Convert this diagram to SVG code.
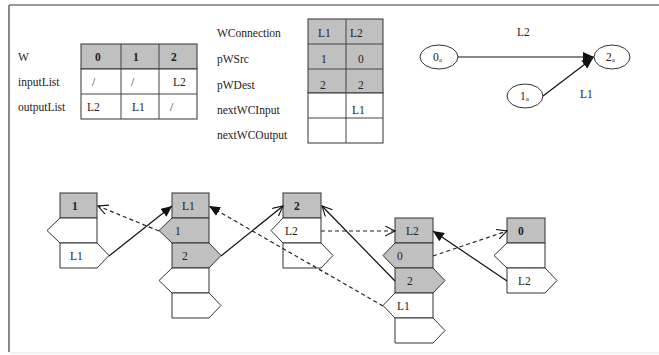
<svg xmlns="http://www.w3.org/2000/svg" width="659" height="355" viewBox="0 0 659 355">
<style>
text{font-family:"Liberation Serif","Times New Roman",serif;font-size:11.5px;fill:#222}
.b{font-weight:bold}
.g{fill:#c0c0c0;stroke:#333;stroke-width:1}
.w{fill:#fff;stroke:#333;stroke-width:1}
.tl{stroke:#444;stroke-width:1;fill:none}
.sl{stroke:#111;stroke-width:1.2;fill:none}
.dl{stroke:#222;stroke-width:1.2;fill:none;stroke-dasharray:4,3}
.el{fill:#fff;stroke:#333;stroke-width:1}
.sub{font-size:7px}
</style>
<defs>
<marker id="fa" markerUnits="userSpaceOnUse" markerWidth="12" markerHeight="10" refX="11" refY="5" orient="auto"><path d="M0,0 L11,5 L0,10 z" fill="#111"/></marker>
<marker id="oa" markerUnits="userSpaceOnUse" markerWidth="12" markerHeight="12" refX="10" refY="5" orient="auto"><path d="M0,0 L10,5 L0,10" fill="none" stroke="#111" stroke-width="1.1"/></marker>
</defs>
<rect x="0" y="0" width="659" height="355" fill="#fff"/>
<!-- frame -->
<line x1="9" y1="5" x2="659" y2="5" stroke="#999" stroke-width="2"/>
<line x1="9" y1="5" x2="9" y2="352" stroke="#888" stroke-width="2"/>
<line x1="9" y1="353" x2="659" y2="353" stroke="#e4e4e4" stroke-width="1"/>

<!-- W table -->
<g id="tableW">
<text x="18" y="61">W</text>
<text x="18" y="86">inputList</text>
<text x="18" y="111">outputList</text>
<rect x="81" y="44" width="116" height="25" class="g"/>
<rect x="81" y="69" width="116" height="50" class="w"/>
<line x1="81" y1="94" x2="197" y2="94" class="tl"/>
<line x1="121" y1="44" x2="121" y2="119" class="tl"/>
<line x1="159" y1="44" x2="159" y2="119" class="tl"/>
<text x="95" y="61" class="b">0</text>
<text x="133" y="61" class="b">1</text>
<text x="171" y="61" class="b">2</text>
<text x="92" y="86">/</text>
<text x="131" y="86">/</text>
<text x="173" y="86">L2</text>
<text x="87" y="111">L2</text>
<text x="132" y="111">L1</text>
<text x="170" y="111">/</text>
</g>

<!-- WConnection table -->
<g id="tableWC">
<text x="217" y="37">WConnection</text>
<text x="217" y="63">pWSrc</text>
<text x="217" y="89">pWDest</text>
<text x="217" y="114">nextWCInput</text>
<text x="217" y="139">nextWCOutput</text>
<rect x="308" y="19" width="75" height="74" class="g"/>
<rect x="308" y="93" width="75" height="50" class="w"/>
<line x1="308" y1="44" x2="383" y2="44" class="tl"/>
<line x1="308" y1="69" x2="383" y2="69" class="tl"/>
<line x1="308" y1="118" x2="383" y2="118" class="tl"/>
<line x1="346" y1="19" x2="346" y2="143" class="tl"/>
<text x="318" y="37">L1</text>
<text x="350" y="37">L2</text>
<text x="321" y="63">1</text>
<text x="358" y="63">0</text>
<text x="320" y="89">2</text>
<text x="358" y="89">2</text>
<text x="352" y="114">L1</text>
</g>

<!-- small graph -->
<g id="g0"><ellipse cx="439" cy="57" rx="19" ry="12" class="el"/><text x="433" y="61">0<tspan class="sub" dy="1">a</tspan></text></g>
<g id="g1"><ellipse cx="525" cy="96" rx="18" ry="12" class="el"/><text x="520" y="100">1<tspan class="sub" dy="1">a</tspan></text></g>
<g id="g2"><ellipse cx="612" cy="57" rx="18" ry="12" class="el"/><text x="606" y="61">2<tspan class="sub" dy="1">a</tspan></text></g>
<g id="graphEdges">
<line x1="458" y1="57" x2="594" y2="57" class="sl" stroke-width="1.5" marker-end="url(#fa)"/>
<line x1="543" y1="96" x2="593" y2="58" class="sl" marker-end="url(#fa)"/>
<text x="517" y="36">L2</text>
<text x="580" y="98">L1</text>
</g>

<!-- block 1 -->
<g id="b1">
<rect x="60" y="193" width="37" height="25" class="g"/>
<polygon points="60,218 97,218 97,243 60,243 47,230.5" class="w"/>
<polygon points="60,243 97,243 109,255.5 97,268 60,268" class="w"/>
<text x="72" y="210" class="b">1</text>
<text x="70" y="260">L1</text>
</g>

<!-- block L1 -->
<g id="bL1">
<rect x="172" y="193" width="37" height="25" class="g"/>
<polygon points="172,218 209,218 209,243 172,243 159,230.5" class="g"/>
<polygon points="172,243 209,243 221,255.5 209,268 172,268" class="g"/>
<polygon points="172,268 209,268 209,293 172,293 159,280.5" class="w"/>
<polygon points="172,293 209,293 221,305.5 209,318 172,318" class="w"/>
<text x="182" y="210">L1</text>
<text x="175" y="235">1</text>
<text x="182" y="260">2</text>
</g>

<!-- block 2 -->
<g id="b2">
<rect x="283" y="193" width="38" height="25" class="g"/>
<polygon points="283,218 321,218 321,243 283,243 271,230.5" class="w"/>
<polygon points="283,243 321,243 333,255.5 321,268 283,268" class="w"/>
<text x="294" y="210" class="b">2</text>
<text x="285" y="235">L2</text>
</g>

<!-- block L2 -->
<g id="bL2">
<rect x="395" y="218" width="38" height="25" class="g"/>
<polygon points="395,243 433,243 433,268 395,268 383,255.5" class="g"/>
<polygon points="395,268 433,268 445,280.5 433,293 395,293" class="g"/>
<polygon points="395,293 433,293 433,318 395,318 383,305.5" class="w"/>
<polygon points="395,318 433,318 445,330.5 433,343 395,343" class="w"/>
<text x="406" y="235">L2</text>
<text x="397" y="260">0</text>
<text x="407" y="285">2</text>
<text x="397" y="310">L1</text>
</g>

<!-- block 0 -->
<g id="b0">
<rect x="507" y="218" width="38" height="25" class="g"/>
<polygon points="507,243 545,243 545,268 507,268 494,255.5" class="w"/>
<polygon points="507,268 545,268 557,280.5 545,293 507,293" class="w"/>
<text x="518" y="235" class="b">0</text>
<text x="518" y="285">L2</text>
</g>

<!-- connectors -->
<g id="connectors">
<line x1="109" y1="256" x2="172" y2="206" class="sl" marker-end="url(#fa)"/>
<line x1="159" y1="231" x2="98" y2="206" class="dl" marker-end="url(#oa)"/>
<line x1="221" y1="256" x2="283" y2="206" class="sl" marker-end="url(#oa)"/>
<line x1="383" y1="306" x2="209" y2="206" class="dl" marker-end="url(#fa)"/>
<line x1="395" y1="281" x2="322" y2="206" class="sl" marker-end="url(#oa)"/>
<line x1="321" y1="231" x2="395" y2="231" class="dl" marker-end="url(#oa)"/>
<line x1="433" y1="256" x2="507" y2="231" class="dl" marker-end="url(#oa)"/>
<line x1="507" y1="281" x2="433" y2="231" class="sl" marker-end="url(#fa)"/>
</g>
</svg>
